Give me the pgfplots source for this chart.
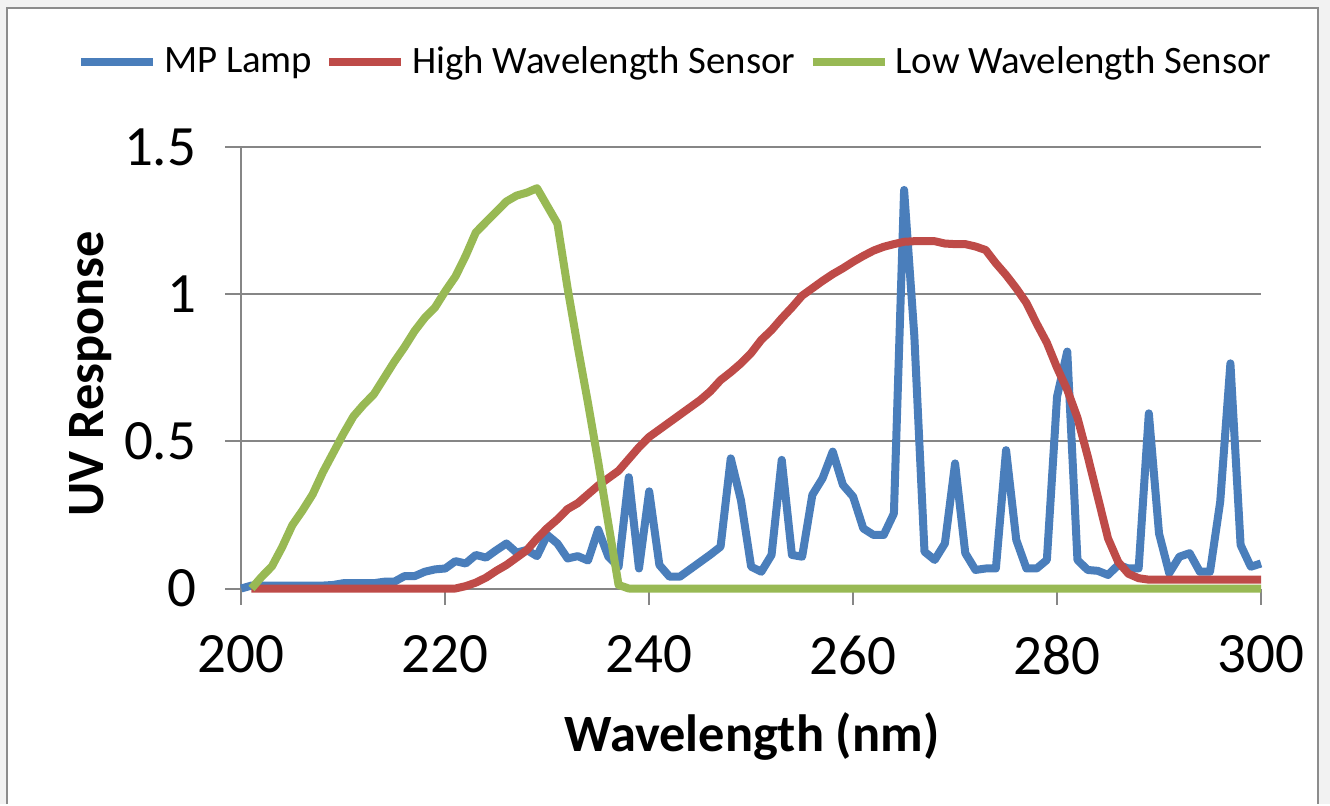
\documentclass[border=0pt]{standalone}
\usepackage{fontspec}
\setmainfont{Carlito}
\usepackage{pgfplots}
\pgfplotsset{compat=1.18}
\definecolor{cblue}{HTML}{4A7EBB}
\definecolor{cred}{HTML}{BE4B48}
\definecolor{cgreen}{HTML}{98B954}
\definecolor{cgrid}{HTML}{868686}
\definecolor{cframe}{HTML}{8C8C8C}

\begin{document}
\begin{tikzpicture}[x=1pt,y=1pt]
\fill[gray!10] (0,0) rectangle (665,402);
\fill[white] (3.5,0) rectangle (659,398);
\draw[cframe, line width=1pt] (3.5,0) -- (3.5,398) -- (659,398) -- (659,0);
\useasboundingbox (0,0) rectangle (665,402);
\begin{axis}[
  scale only axis, width=509.85pt, height=220.75pt,
  at={(120.65pt,107.75pt)}, anchor=south west,
  xmin=200, xmax=300, ymin=0, ymax=1.5,
  xtick={200,220,...,300}, ytick={0,0.5,1,1.5},
  axis x line*=bottom, axis y line*=left,
  axis line style={-, draw=cgrid, line width=1pt},
  tick align=outside, major tick length=8pt,
  tick style={draw=cgrid, line width=1pt},
  ymajorgrids, major grid style={draw=cgrid, line width=1pt},
  /pgf/number format/assume math mode=true,
  ticklabel style={font=\fontsize{28.5}{33}\selectfont},
  xticklabel style={yshift=-12pt},
  yticklabel style={xshift=-11pt},
  xlabel={Wavelength (nm)}, ylabel={UV Response},
  xlabel style={font=\fontsize{26.2}{31}\selectfont\bfseries, at={(axis description cs:0.5008,-0.336)}, anchor=center},
  ylabel style={font=\fontsize{26.2}{31}\selectfont\bfseries, at={(axis description cs:-0.1474,0.486)}, anchor=center},
  no markers, clip=false,
  legend columns=-1,
  legend style={draw=none, fill=none, at={(0.428,1.1925)}, anchor=center,
    font=\fontsize{19.4}{23}\selectfont,
    nodes={inner xsep=3.5pt},
    /tikz/every even column/.append style={column sep=3pt}},
  legend image code/.code={\draw[#1, line width=4pt] (0pt,0pt) -- (36pt,0pt);},
]
\addplot[cblue, line width=4pt, line join=round] coordinates {
(200,0.0) (201,0.01) (202,0.01) (203,0.01) (204,0.01) (205,0.01) (206,0.01) (207,0.01) (208,0.01)
(209,0.012) (210,0.018) (211,0.018) (212,0.018) (213,0.018) (214,0.023) (215,0.023) (216,0.042)
(217,0.042) (218,0.057) (219,0.065) (220,0.068) (221,0.093) (222,0.085) (223,0.114) (224,0.105)
(225,0.13) (226,0.153) (227,0.122) (228,0.131) (229,0.11) (230,0.182) (231,0.153) (232,0.102)
(233,0.11) (234,0.095) (235,0.2) (236,0.108) (237,0.074) (238,0.378) (239,0.068) (240,0.33)
(241,0.08) (242,0.04) (243,0.04) (244,0.065) (245,0.09) (246,0.115) (247,0.142) (248,0.442)
(249,0.30) (250,0.074) (251,0.057) (252,0.114) (253,0.437) (254,0.114) (255,0.108) (256,0.318)
(257,0.374) (258,0.465) (259,0.352) (260,0.312) (261,0.204) (262,0.182) (263,0.182) (264,0.255)
(265,1.354) (266,0.86) (267,0.125) (268,0.097) (269,0.153) (270,0.425) (271,0.12) (272,0.063)
(273,0.068) (274,0.068) (275,0.47) (276,0.165) (277,0.068) (278,0.068) (279,0.097) (280,0.652)
(281,0.805) (282,0.097) (283,0.063) (284,0.06) (285,0.046) (286,0.08) (287,0.068) (288,0.068)
(289,0.595) (290,0.187) (291,0.052) (292,0.108) (293,0.12) (294,0.057) (295,0.057) (296,0.295)
(297,0.765) (298,0.148) (299,0.074) (300,0.085)
};
\addlegendentry{MP Lamp}
\addplot[cred, line width=4pt, line join=round] coordinates {
(201,0) (221,0) (222,0.008) (223,0.02) (224,0.037) (225,0.06) (226,0.08) (227,0.105) (228,0.13)
(229,0.17) (230,0.205) (231,0.235) (232,0.27) (233,0.29) (234,0.32) (235,0.35) (236,0.375)
(237,0.40) (238,0.44) (239,0.48) (240,0.515) (241,0.54) (242,0.565) (243,0.59) (244,0.615)
(245,0.64) (246,0.67) (247,0.708) (248,0.735) (249,0.765) (250,0.80) (251,0.845) (252,0.878)
(253,0.918) (254,0.955) (255,0.995) (256,1.02) (257,1.045) (258,1.068) (259,1.088) (260,1.11)
(261,1.13) (262,1.148) (263,1.161) (264,1.17) (265,1.178) (266,1.18) (267,1.18) (268,1.18)
(269,1.172) (270,1.17) (271,1.17) (272,1.162) (273,1.15) (274,1.105) (275,1.065) (276,1.02)
(277,0.97) (278,0.90) (279,0.835) (280,0.75) (281,0.675) (282,0.58) (283,0.45) (284,0.31)
(285,0.17) (286,0.09) (287,0.05) (288,0.035) (289,0.03) (300,0.03)
};
\addlegendentry{High Wavelength Sensor}
\addplot[cgreen, line width=4pt, line join=round] coordinates {
(201,0.0) (202,0.04) (203,0.075) (204,0.14) (205,0.215) (206,0.265) (207,0.32) (208,0.395)
(209,0.46) (210,0.525) (211,0.585) (212,0.625) (213,0.66) (214,0.715) (215,0.77) (216,0.82)
(217,0.875) (218,0.92) (219,0.955) (220,1.01) (221,1.06) (222,1.13) (223,1.21) (224,1.245)
(225,1.28) (226,1.315) (227,1.335) (228,1.345) (229,1.36) (230,1.30) (231,1.24) (232,1.02)
(233,0.82) (234,0.63) (235,0.43) (236,0.22) (237,0.012) (238,0) (300,0)
};
\addlegendentry{Low Wavelength Sensor}
\end{axis}
\end{tikzpicture}
\end{document}
